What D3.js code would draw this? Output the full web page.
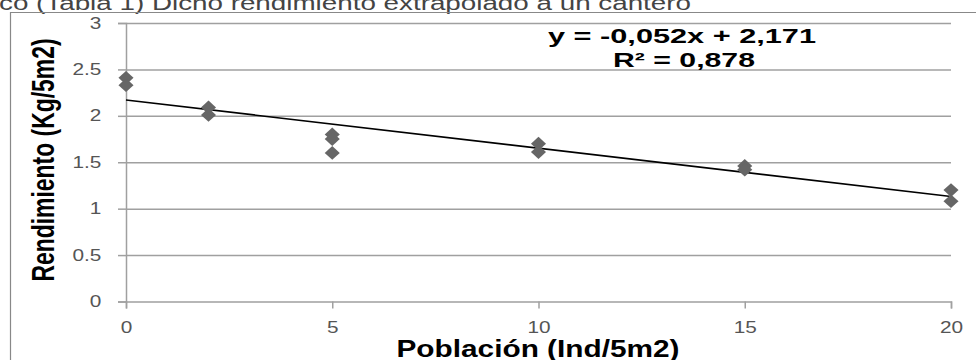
<!DOCTYPE html>
<html>
<head>
<meta charset="utf-8">
<script src="https://cdn.jsdelivr.net/npm/d3@7"></script>
<style>
  body { margin: 0; background: #fff; }
  svg { display: block; font-family: "Liberation Sans", Arial, sans-serif; }
  .grid line { stroke: #a0a0a0; stroke-width: 1.5; }
  .grid .domain { display: none; }
  .axis path, .axis line { stroke: #a0a0a0; stroke-width: 1.5; }
  .axis text { fill: #555; font-size: 16px; }
</style>
</head>
<body>
<svg id="chart" width="976" height="360"></svg>
<script>
// data
const poblacion   = [0, 0, 2, 2, 5, 5, 5, 10, 10, 15, 15, 20, 20];
const rendimiento = [2.41, 2.33, 2.09, 2.01, 1.80, 1.75, 1.60, 1.70, 1.61, 1.46, 1.42, 1.20, 1.08];
const xTicks = [0, 5, 10, 15, 20];
const yTicks = [0, 0.5, 1, 1.5, 2, 2.5, 3];
const trendSlope = -0.052;
const trendIntercept = 2.171;
const eqLabel = 'y = -0,052x + 2,171';
const r2Label = 'R² = 0,878';
const xTitle = 'Población (Ind/5m2)';
const yTitle = 'Rendimiento (Kg/5m2)';
const topText = 'co (Tabla 1) Dicho rendimiento extrapolado a un cantero';

const svg = d3.select('#chart');
const stretch = 1.3;   // the picture is a bit wider than tall

// bits of the surrounding page
svg.append('text')
  .attr('x', -1).attr('y', 10)
  .attr('fill', '#444')
  .style('font-size', '20px')
  .attr('textLength', 692)
  .attr('lengthAdjust', 'spacingAndGlyphs')
  .text(topText);

svg.append('path')
  .attr('d', 'M10.5,360V12.5H976')
  .attr('fill', 'none')
  .attr('stroke', '#888')
  .attr('stroke-width', 1.2);

const x = d3.scaleLinear().domain([0, 20]).range([126, 951]);
const y = d3.scaleLinear().domain([0, 3]).range([301.5, 23]);

// horizontal gridlines
svg.append('g')
  .attr('class', 'grid')
  .attr('transform', `translate(${x(0)},0)`)
  .call(d3.axisLeft(y).tickValues(yTicks.slice(1)).tickSize(-(x(20) - x(0))).tickFormat(''));

// axes
const yAxis = svg.append('g')
  .attr('class', 'axis')
  .attr('transform', `translate(${x(0)},0)`)
  .call(d3.axisLeft(y).tickValues(yTicks).tickSize(8).tickPadding(11).tickFormat(d => String(d)));
yAxis.selectAll('text').attr('transform', `scale(${stretch},1)`);

const xAxis = svg.append('g')
  .attr('class', 'axis')
  .attr('transform', `translate(0,${y(0)})`)
  .call(d3.axisBottom(x).tickValues(xTicks).tickSize(7).tickSizeOuter(7).tickPadding(13).tickFormat(d => String(d)));
xAxis.selectAll('text').attr('transform', `scale(${stretch},1)`);

// trend line
svg.append('line')
  .attr('x1', x(0)).attr('y1', y(trendIntercept))
  .attr('x2', x(20)).attr('y2', y(trendSlope * 20 + trendIntercept))
  .attr('stroke', '#000')
  .attr('stroke-width', 1.6);

// points
const diamond = d3.symbol().type(d3.symbolDiamond2).size(120);
svg.selectAll('.pt')
  .data(poblacion.map((p, i) => ({p, r: rendimiento[i]})))
  .enter().append('path')
  .attr('class', 'pt')
  .attr('d', diamond)
  .attr('transform', d => `translate(${x(d.p)},${y(d.r)}) scale(1.1,1)`)
  .attr('fill', '#666');

// equation
svg.append('text')
  .attr('x', 682).attr('y', 43)
  .attr('text-anchor', 'middle')
  .style('font-size', '21px').style('font-weight', 'bold')
  .attr('textLength', 268).attr('lengthAdjust', 'spacingAndGlyphs')
  .text(eqLabel);
svg.append('text')
  .attr('x', 684).attr('y', 67)
  .attr('text-anchor', 'middle')
  .style('font-size', '21px').style('font-weight', 'bold')
  .attr('textLength', 142).attr('lengthAdjust', 'spacingAndGlyphs')
  .text(r2Label);

// axis titles
svg.append('text')
  .attr('x', 538).attr('y', 357)
  .attr('text-anchor', 'middle')
  .style('font-size', '23px').style('font-weight', 'bold')
  .attr('textLength', 283).attr('lengthAdjust', 'spacingAndGlyphs')
  .text(xTitle);

svg.append('text')
  .attr('transform', `translate(54,160) scale(1.45,1) rotate(-90)`)
  .attr('text-anchor', 'middle')
  .style('font-size', '22px').style('font-weight', 'bold')
  .attr('textLength', 243).attr('lengthAdjust', 'spacingAndGlyphs')
  .text(yTitle);
</script>
</body>
</html>
